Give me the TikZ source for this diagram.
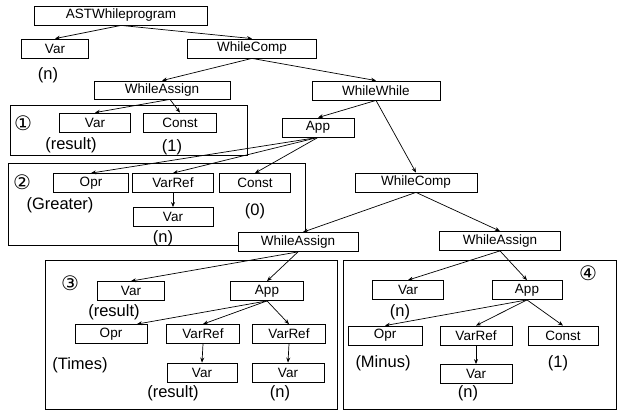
\documentclass[tikz,border=0pt]{standalone}
\usepackage{fontspec}
\setmainfont{Liberation Sans}
\newfontfamily\circfont{DejaVu Sans}
\usetikzlibrary{arrows.meta}

\begin{document}
\begin{tikzpicture}[x=1pt, y=-1pt,
    ast/.style={draw, fill=white, line width=0.8pt, minimum height=19pt, inner sep=0pt, font=\fontsize{13.5}{14}\selectfont},
    val/.style={inner sep=0pt, font=\fontsize{16.5}{18}\selectfont},
    num/.style={inner sep=0pt, font=\circfont\fontsize{20}{22}\selectfont},
    grp/.style={draw, line width=0.8pt},
    edge/.style={-{Stealth[length=5pt,width=4pt]}, line width=0.7pt}]
  \useasboundingbox (0,0) rectangle (619,411);

  % the four numbered groups
  \draw[grp] (10,105) rectangle (247,155);
  \draw[grp] (8,163) rectangle (305,245);
  \draw[grp] (45,260) rectangle (337,409);
  \draw[grp] (343,260) rectangle (616,409);
  \node[num] (one) at (23,123) {①};
  \node[num] (two) at (22,182) {②};
  \node[num] (three) at (70,283) {③};
  \node[num] (four) at (588,273) {④};

  % top of the tree
  \node[ast, minimum width=173pt] (prog) at (121,15.5) {ASTWhileprogram};
  \node[ast, minimum width=67pt] (var0) at (55,48.5) {Var};
  \node[val] (var0v) at (48,75) {(n)};
  \node[ast, minimum width=129pt] (comp1) at (252,48.5) {WhileComp};
  \node[ast, minimum width=136pt, minimum height=18pt] (asgn1) at (162,90) {WhileAssign};
  \node[ast, minimum width=128pt] (loop) at (376,90.5) {WhileWhile};
  \node[ast, minimum width=72pt] (app1) at (318,127.5) {App};
  \node[ast, minimum width=122pt] (comp2) at (416,182.5) {WhileComp};

  % group 1
  \node[ast, minimum width=71pt] (var1) at (95,122.5) {Var};
  \node[ast, minimum width=73pt] (const1) at (180,122.5) {Const};
  \node[val] (var1v) at (71,145) {(result)};
  \node[val] (const1v) at (172,147) {(1)};

  % group 2
  \node[ast, minimum width=75pt] (opr2) at (91,183) {Opr};
  \node[ast, minimum width=81pt] (ref2) at (173,183) {VarRef};
  \node[ast, minimum width=71pt] (const2) at (255,183) {Const};
  \node[ast, minimum width=80pt] (var2) at (173,217) {Var};
  \node[val] (opr2v) at (60,205) {(Greater)};
  \node[val] (const2v) at (255,211) {(0)};
  \node[val] (var2v) at (163,238) {(n)};

  % the two assignments of the loop body
  \node[ast, minimum width=120pt] (asgn3) at (298,242) {WhileAssign};
  \node[ast, minimum width=121pt] (asgn4) at (500,241) {WhileAssign};

  % group 3
  \node[ast, minimum width=67pt] (var3) at (131,291) {Var};
  \node[ast, minimum width=73pt] (app3) at (267,291) {App};
  \node[val] (var3v) at (114,312) {(result)};
  \node[ast, minimum width=72pt] (opr3) at (111,334) {Opr};
  \node[ast, minimum width=73pt] (refa3) at (203,334) {VarRef};
  \node[ast, minimum width=73pt] (refb3) at (289,334) {VarRef};
  \node[val] (opr3v) at (80,365) {(Times)};
  \node[ast, minimum width=70pt] (vara3) at (202,372.5) {Var};
  \node[ast, minimum width=72pt] (varb3) at (288,372.5) {Var};
  \node[val] (vara3v) at (173,393) {(result)};
  \node[val] (varb3v) at (280,393) {(n)};

  % group 4
  \node[ast, minimum width=71pt] (var4) at (408,290) {Var};
  \node[ast, minimum width=70pt] (app4) at (527,290) {App};
  \node[val] (var4v) at (400,312) {(n)};
  \node[ast, minimum width=74pt] (opr4) at (385,335.5) {Opr};
  \node[ast, minimum width=72pt] (ref4) at (476,335.5) {VarRef};
  \node[ast, minimum width=70pt] (const4) at (563,335.5) {Const};
  \node[val] (opr4v) at (383,363) {(Minus)};
  \node[val] (const4v) at (558,363) {(1)};
  \node[ast, minimum width=72pt] (var4b) at (476,374) {Var};
  \node[val] (var4bv) at (468,393) {(n)};

  % connectors
  \draw[edge] (prog.south) -- (var0.north);
  \draw[edge] (prog.south) -- (comp1.north);
  \draw[edge] (comp1.south) -- (asgn1.north);
  \draw[edge] (comp1.south) -- (loop.north);
  \draw[edge] ([xshift=8pt]asgn1.south) -- (var1.north);
  \draw[edge] ([xshift=8pt]asgn1.south) -- (const1.north);
  \draw[edge] (loop.south) -- (app1.north);
  \draw[edge] (loop.south) -- (comp2.north);
  \draw[edge] (app1.south) -- (opr2.north);
  \draw[edge] (app1.south) -- (ref2.north);
  \draw[edge] (app1.south) -- (const2.north);
  \draw[edge] (ref2.south) -- (var2.north);
  \draw[edge] (comp2.south) -- ([xshift=5pt]asgn3.north);
  \draw[edge] (comp2.south) -- (asgn4.north);
  \draw[edge] (asgn3.south) -- (var3.north);
  \draw[edge] (asgn3.south) -- (app3.north);
  \draw[edge] (app3.south) -- ([xshift=26pt]opr3.north);
  \draw[edge] (app3.south) -- (refa3.north);
  \draw[edge] (app3.south) -- (refb3.north);
  \draw[edge] (refa3.south) -- (vara3.north);
  \draw[edge] (refb3.south) -- (varb3.north);
  \draw[edge] (asgn4.south) -- (var4.north);
  \draw[edge] (asgn4.south) -- (app4.north);
  \draw[edge] (app4.south) -- (opr4.north);
  \draw[edge] (app4.south) -- (ref4.north);
  \draw[edge] (app4.south) -- (const4.north);
  \draw[edge] (ref4.south) -- (var4b.north);
\end{tikzpicture}
\end{document}
